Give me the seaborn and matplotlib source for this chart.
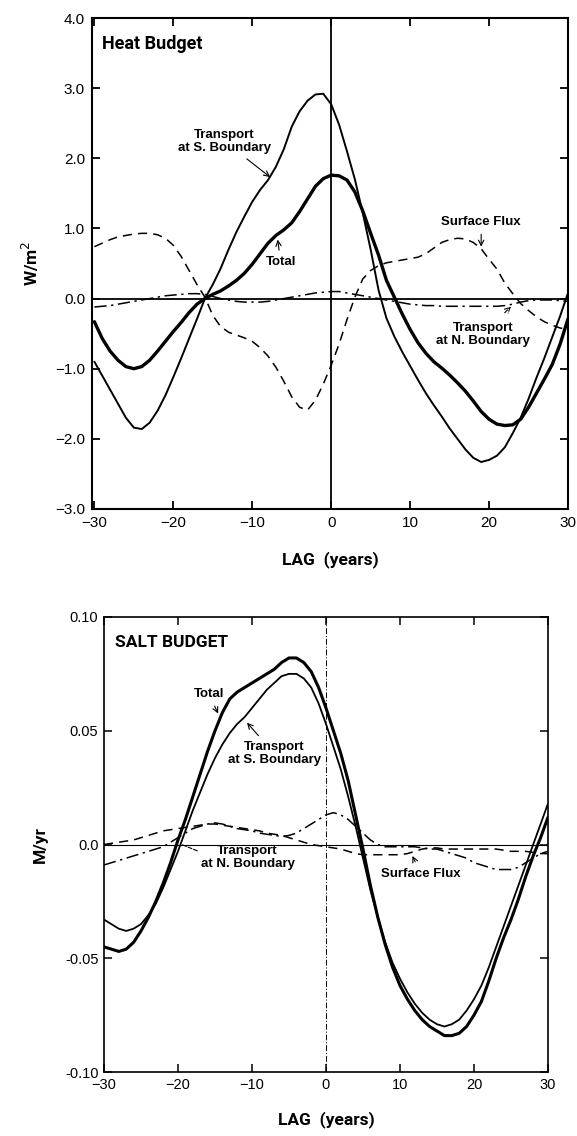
import numpy as np
import pandas as pd
import matplotlib
matplotlib.use("Agg")
import matplotlib.pyplot as plt
import seaborn as sns

# ---------------- data ----------------
lag = list(range(-30, 31))

heat_total = [-0.33, -0.57, -0.75, -0.88, -0.97, -1.00, -0.97, -0.88, -0.75, -0.61,
              -0.47, -0.34, -0.20, -0.08, 0.00, 0.06, 0.11, 0.18, 0.26, 0.36,
              0.49, 0.64, 0.79, 0.90, 0.98, 1.08, 1.24, 1.42, 1.60, 1.71,
              1.76, 1.75, 1.69, 1.52, 1.25, 0.93, 0.62, 0.26, 0.02, -0.22,
              -0.44, -0.63, -0.78, -0.90, -0.99, -1.09, -1.20, -1.32, -1.46, -1.61,
              -1.72, -1.79, -1.81, -1.80, -1.72, -1.55, -1.35, -1.15, -0.94, -0.65,
              -0.29]
heat_south = [-0.90, -1.10, -1.30, -1.50, -1.70, -1.84, -1.86, -1.77, -1.60, -1.38,
              -1.12, -0.85, -0.57, -0.29, 0.00, 0.20, 0.43, 0.70, 0.95, 1.17,
              1.38, 1.55, 1.69, 1.88, 2.13, 2.45, 2.67, 2.82, 2.91, 2.92,
              2.77, 2.48, 2.10, 1.70, 1.22, 0.70, 0.12, -0.28, -0.54, -0.76,
              -0.96, -1.16, -1.35, -1.52, -1.68, -1.85, -2.00, -2.15, -2.27, -2.33,
              -2.30, -2.24, -2.12, -1.92, -1.70, -1.43, -1.13, -0.85, -0.55, -0.25,
              0.08]
heat_surface = [0.74, 0.79, 0.84, 0.88, 0.90, 0.92, 0.93, 0.93, 0.91, 0.86,
                0.76, 0.60, 0.40, 0.20, 0.02, -0.24, -0.40, -0.48, -0.52, -0.56,
                -0.61, -0.70, -0.82, -0.98, -1.18, -1.40, -1.55, -1.59, -1.45, -1.22,
                -0.95, -0.65, -0.30, 0.02, 0.28, 0.40, 0.47, 0.51, 0.53, 0.55,
                0.57, 0.59, 0.64, 0.72, 0.80, 0.84, 0.86, 0.85, 0.80, 0.71,
                0.56, 0.42, 0.22, 0.07, -0.07, -0.17, -0.26, -0.33, -0.38, -0.42,
                -0.44]
heat_north = [-0.12, -0.11, -0.10, -0.08, -0.06, -0.04, -0.02, 0.00, 0.02, 0.04,
              0.05, 0.06, 0.07, 0.07, 0.06, 0.03, 0.00, -0.02, -0.04, -0.05,
              -0.05, -0.05, -0.04, -0.02, 0.00, 0.02, 0.04, 0.06, 0.08, 0.09,
              0.10, 0.10, 0.08, 0.06, 0.04, 0.02, 0.00, -0.02, -0.04, -0.06,
              -0.08, -0.09, -0.10, -0.10, -0.11, -0.11, -0.11, -0.11, -0.11, -0.11,
              -0.11, -0.11, -0.10, -0.08, -0.05, -0.03, -0.02, -0.02, -0.02, -0.03,
              -0.04]

salt_total = [-0.045, -0.046, -0.047, -0.046, -0.043, -0.038, -0.032, -0.025, -0.017, -0.008,
              0.002, 0.011, 0.021, 0.031, 0.041, 0.050, 0.058, 0.064, 0.067, 0.069,
              0.071, 0.073, 0.075, 0.077, 0.080, 0.082, 0.082, 0.080, 0.076, 0.069,
              0.060, 0.050, 0.040, 0.028, 0.013, -0.002, -0.018, -0.032, -0.044, -0.054,
              -0.062, -0.068, -0.073, -0.077, -0.080, -0.082, -0.084, -0.084, -0.083, -0.080,
              -0.075, -0.069, -0.060, -0.050, -0.041, -0.033, -0.024, -0.014, -0.005, 0.003,
              0.012]
salt_south = [-0.033, -0.035, -0.037, -0.038, -0.037, -0.035, -0.031, -0.026, -0.019, -0.011,
              -0.003, 0.006, 0.015, 0.023, 0.031, 0.038, 0.044, 0.049, 0.053, 0.056,
              0.060, 0.064, 0.068, 0.071, 0.074, 0.075, 0.075, 0.073, 0.069, 0.062,
              0.053, 0.043, 0.033, 0.021, 0.008, -0.006, -0.020, -0.032, -0.043, -0.052,
              -0.059, -0.065, -0.070, -0.074, -0.077, -0.079, -0.080, -0.079, -0.077, -0.073,
              -0.068, -0.062, -0.054, -0.045, -0.036, -0.027, -0.018, -0.009, 0.000, 0.009,
              0.018]
salt_surface = [0.000, 0.0005, 0.001, 0.0015, 0.002, 0.003, 0.004, 0.005, 0.006, 0.0065,
                0.007, 0.0075, 0.008, 0.0085, 0.009, 0.009, 0.0085, 0.008, 0.0075, 0.007,
                0.0065, 0.006, 0.005, 0.0045, 0.004, 0.003, 0.002, 0.001, 0.000, -0.0005,
                -0.001, -0.0015, -0.002, -0.003, -0.004, -0.0045, -0.0045, -0.0045, -0.0045, -0.0045,
                -0.0045, -0.004, -0.003, -0.002, -0.0015, -0.0015, -0.002, -0.002, -0.002, -0.002,
                -0.002, -0.002, -0.002, -0.002, -0.0025, -0.003, -0.003, -0.003, -0.0035, -0.004,
                -0.004]
salt_north = [-0.009, -0.008, -0.007, -0.006, -0.005, -0.004, -0.003, -0.002, -0.001, 0.001,
              0.003, 0.005, 0.007, 0.008, 0.009, 0.0095, 0.009, 0.008, 0.007, 0.0065,
              0.006, 0.005, 0.0045, 0.004, 0.0035, 0.004, 0.005, 0.007, 0.009, 0.011,
              0.013, 0.014, 0.013, 0.011, 0.008, 0.005, 0.002, 0.000, -0.001, -0.001,
              -0.001, -0.001, -0.001, -0.0015, -0.002, -0.002, -0.003, -0.004, -0.005, -0.006,
              -0.008, -0.009, -0.010, -0.011, -0.011, -0.011, -0.010, -0.008, -0.006, -0.004,
              -0.003]

x_ticks = [-30, -20, -10, 0, 10, 20, 30]
x_ticklabels = ["\u221230", "\u221220", "\u221210", "0", "10", "20", "30"]
heat_yticks = [-3.0, -2.0, -1.0, 0.0, 1.0, 2.0, 3.0, 4.0]
heat_yticklabels = ["\u22123.0", "\u22122.0", "\u22121.0", "0.0", "1.0", "2.0", "3.0", "4.0"]
salt_yticks = [-0.10, -0.05, 0.0, 0.05, 0.10]
salt_yticklabels = ["-0.10", "-0.05", "0.0", "0.05", "0.10"]

# ---------------- style ----------------
sns.set_style("ticks")
plt.rcParams["font.family"] = ["Liberation Sans", "DejaVu Sans"]
plt.rcParams["axes.linewidth"] = 1.5
for k in ("text.color", "axes.labelcolor", "xtick.color", "ytick.color", "axes.edgecolor"):
    plt.rcParams[k] = "black"

COND = dict(family=["Roboto", "DejaVu Sans"], fontweight="bold")

fig = plt.figure(figsize=(5.77, 11.36), dpi=100)
ax1 = fig.add_axes([92 / 577, 1 - 509 / 1136, (568 - 92) / 577, (509 - 18) / 1136])
ax2 = fig.add_axes([104 / 577, 1 - 1072 / 1136, (548 - 104) / 577, (1072 - 617) / 1136])

heat = pd.DataFrame({"lag": lag, "total": heat_total, "south": heat_south,
                     "surface": heat_surface, "north": heat_north})
salt = pd.DataFrame({"lag": lag, "total": salt_total, "south": salt_south,
                     "surface": salt_surface, "north": salt_north})

dashdot = (0, (8, 3, 1.5, 3))

def draw(ax, df, thick_lw, thin_lw):
    sns.lineplot(data=df, x="lag", y="total", ax=ax, color="black", lw=thick_lw)
    sns.lineplot(data=df, x="lag", y="south", ax=ax, color="black", lw=thin_lw)
    sns.lineplot(data=df, x="lag", y="surface", ax=ax, color="black", lw=1.1,
                 linestyle=(0, (6, 4)))
    sns.lineplot(data=df, x="lag", y="north", ax=ax, color="black", lw=1.1,
                 linestyle=dashdot)

# ---------- top: heat ----------
draw(ax1, heat, 2.4, 1.4)
ax1.axhline(0, color="black", lw=1.3, zorder=1)
ax1.axvline(0, color="black", lw=1.3, zorder=1)
ax1.set_xlim(-30.3, 30)
ax1.set_ylim(-3.0, 4.0)
ax1.set_xticks(x_ticks)
ax1.set_xticklabels(x_ticklabels, fontsize=11)
ax1.set_yticks(heat_yticks)
ax1.set_yticklabels(heat_yticklabels, fontsize=11)
ax1.tick_params(direction="in", length=6, width=1.3, top=True, right=True, pad=5)
ax1.set_xlabel("LAG  (years)", fontsize=12.5, labelpad=15, **COND)
ax1.set_ylabel("W/m$^2$", fontsize=12.5, labelpad=10, **COND)
ax1.text(-29.0, 3.63, "Heat Budget", fontsize=13, ha="left", va="center", **COND)

arrow = dict(arrowstyle="->", color="black", lw=0.8, shrinkA=2, shrinkB=1)
ann = dict(fontsize=9.5, fontweight="bold", ha="center", va="center", linespacing=1.1)
ax1.annotate("Transport\nat S. Boundary", xy=(-7.6, 1.72), xytext=(-13.5, 2.24),
             arrowprops=arrow, **ann)
ax1.annotate("Total", xy=(-6.8, 0.86), xytext=(-6.4, 0.52), arrowprops=arrow, **ann)
ax1.annotate("Surface Flux", xy=(19.0, 0.72), xytext=(19.0, 1.09), arrowprops=arrow, **ann)
ax1.annotate("Transport\nat N. Boundary", xy=(22.9, -0.10), xytext=(19.2, -0.51),
             arrowprops=dict(arrowstyle="->", color="black", lw=0.8, ls="--",
                             shrinkA=6, shrinkB=1), **ann)

# ---------- bottom: salt ----------
draw(ax2, salt, 2.2, 1.3)
ax2.axhline(0, color="black", lw=0.8, zorder=1)
ax2.axvline(0, color="black", lw=0.7, linestyle=(0, (6, 2, 1, 2)), zorder=1)
ax2.set_xlim(-30, 30)
ax2.set_ylim(-0.10, 0.10)
ax2.set_xticks(x_ticks)
ax2.set_xticklabels(x_ticklabels, fontsize=10.5)
ax2.set_yticks(salt_yticks)
ax2.set_yticklabels(salt_yticklabels, fontsize=10.5)
ax2.tick_params(direction="in", length=6, width=1.1, top=True, right=True, pad=4)
for s in ax2.spines.values():
    s.set_linewidth(1.2)
ax2.set_xlabel("LAG  (years)", fontsize=12.5, labelpad=14, **COND)
ax2.set_ylabel("M/yr", fontsize=12.5, labelpad=12, **COND)
ax2.text(-28.5, 0.089, "SALT BUDGET", fontsize=12.5, ha="left", va="center", **COND)

ax2.annotate("Total", xy=(-14.5, 0.057), xytext=(-15.8, 0.066), arrowprops=arrow, **ann)
ax2.annotate("Transport\nat S. Boundary", xy=(-10.8, 0.054), xytext=(-7.0, 0.040),
             arrowprops=arrow, **ann)
ax2.annotate("Transport\nat N. Boundary", xy=(-19.5, 0.0), xytext=(-10.6, -0.0058),
             arrowprops=dict(arrowstyle="-", color="black", lw=0.8, ls="--",
                             shrinkA=0, shrinkB=0, relpos=(0, 0.72)), **ann)
ax2.annotate("Surface Flux", xy=(11.6, -0.0045), xytext=(12.8, -0.0128),
             arrowprops=arrow, **ann)

for ax in (ax1, ax2):
    ax.set_facecolor("white")

fig.savefig("out.png", dpi=100, facecolor="white")
